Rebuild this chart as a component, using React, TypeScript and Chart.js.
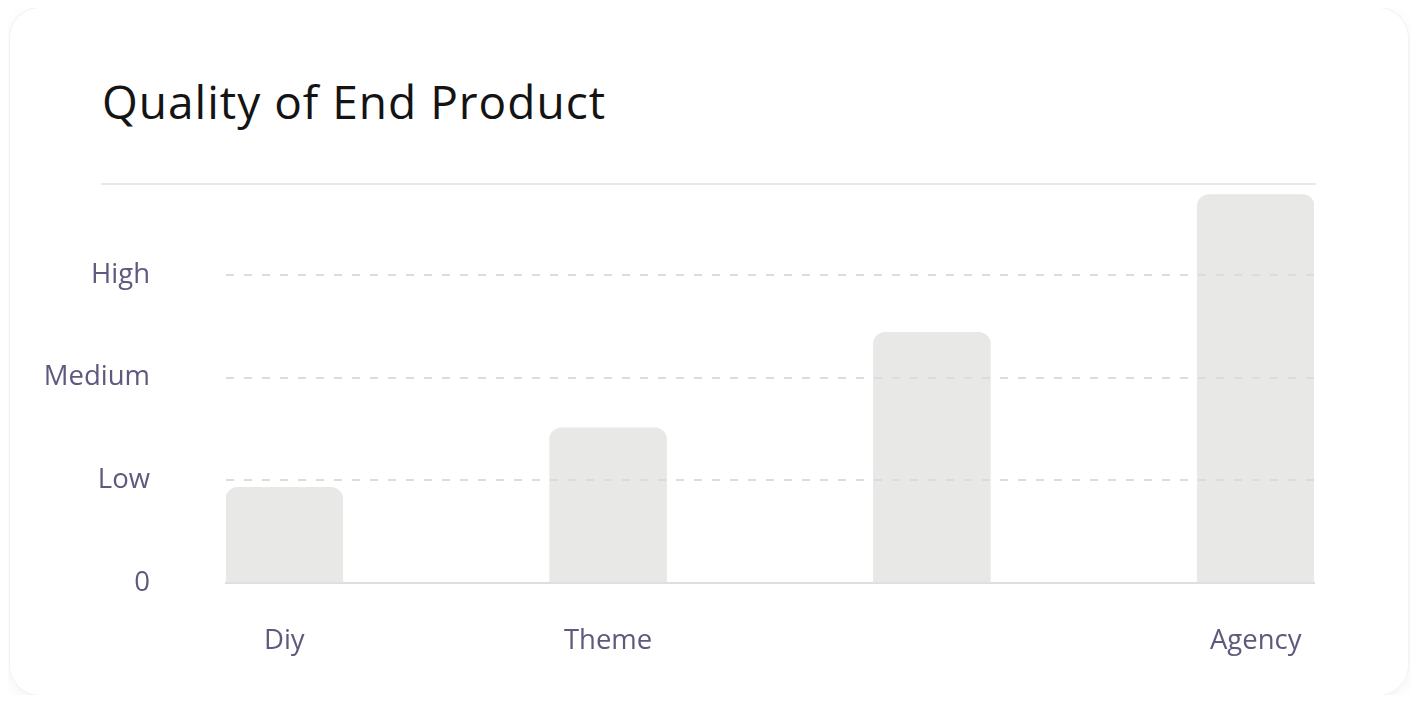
import React, { useEffect, useRef } from 'react';
import Chart from 'chart.js/auto';

// categories of the x axis (third one has no label in the picture)
const categories: string[] = ['Diy', 'Theme', '', 'Agency'];
// quality level of each category, 0 = none, 1 = Low, 2 = Medium, 3 = High
const qualityValues: number[] = [0.93, 1.51, 2.44, 3.78];
// labels of the y axis ticks
const levelLabels: string[] = ['0', 'Low', 'Medium', 'High'];

const labelColor = '#5d5a7e';
const barColor = '#e8e8e6';

const App: React.FC = () => {
  const chartRef = useRef<HTMLCanvasElement | null>(null);
  const chartInstanceRef = useRef<Chart | null>(null);

  useEffect(() => {
    if (!chartRef.current) return;
    const ctx = chartRef.current.getContext('2d');
    if (!ctx) return;

    if (chartInstanceRef.current) {
      chartInstanceRef.current.destroy();
    }

    chartInstanceRef.current = new Chart(ctx, {
      type: 'bar',
      data: {
        datasets: [
          {
            label: 'Quality',
            data: qualityValues.map((v, i) => ({ x: i, y: v })),
            backgroundColor: barColor,
            borderRadius: { topLeft: 12, topRight: 12, bottomLeft: 0, bottomRight: 0 },
            borderSkipped: 'bottom',
            barThickness: 117,
          },
        ],
      },
      options: {
        animation: false,
        responsive: true,
        maintainAspectRatio: false,
        layout: { padding: { left: 0, right: 94, top: 2, bottom: 0 } },
        plugins: {
          legend: { display: false },
          tooltip: { enabled: false },
        },
        scales: {
          x: {
            type: 'linear',
            offset: false,
            min: -0.18,
            max: 3.18,
            afterBuildTicks: (scale: any) => {
              scale.ticks = categories.map((_, i) => ({ value: i }));
            },
            afterFit: (scale: any) => {
              scale.height = 107;
              scale.paddingLeft = 0;
              scale.paddingRight = 0;
            },
            grid: { display: false, offset: false },
            border: { display: true, color: '#dedede', width: 2 },
            ticks: {
              padding: 34,
              maxRotation: 0,
              autoSkip: false,
              color: labelColor,
              font: { family: 'Open Sans', size: 27.5 },
              callback: (value: any) => categories[value] ?? '',
            },
          },
          y: {
            min: 0,
            max: 4,
            afterBuildTicks: (scale: any) => {
              scale.ticks = levelLabels.map((_, i) => ({ value: i }));
            },
            afterFit: (scale: any) => {
              // fixed axis width, and no extra top/bottom room from the tick padding
              scale.width = 216;
              scale.paddingTop = 0;
              scale.paddingBottom = 0;
            },
            grid: {
              z: 1,
              drawTicks: false,
              color: (c: any) => (c.tick && c.tick.value === 0 ? 'rgba(0,0,0,0)' : '#dcdcdc'),
              lineWidth: 2,
            },
            border: { display: false, dash: [8, 10] },
            ticks: {
              padding: 76,
              color: labelColor,
              font: { family: 'Open Sans', size: 27.5 },
              callback: (value: any) => levelLabels[value] ?? '',
            },
          },
        },
      },
    } as any);

    return () => {
      if (chartInstanceRef.current) {
        chartInstanceRef.current.destroy();
        chartInstanceRef.current = null;
      }
    };
  }, []);

  return (
    <div style={{ paddingLeft: 2 }}>
      <div
        style={{
          position: 'relative',
          width: 1398,
          height: 687,
          borderRadius: 30,
          background: '#ffffff',
          boxShadow: '0 0 0 1px #f2f2f2, 0 4px 16px rgba(0,0,0,0.05)',
        }}
      >
        <div
          style={{
            position: 'absolute',
            left: 92,
            top: 70,
            fontFamily: 'Open Sans',
            fontSize: 46,
            lineHeight: 1,
            color: '#141414',
            letterSpacing: 1,
            whiteSpace: 'nowrap',
          }}
        >
          Quality of End Product
        </div>
        <div
          style={{
            position: 'absolute',
            left: 91,
            top: 175,
            width: 1215,
            height: 2,
            background: '#e8e8e8',
          }}
        />
        <div style={{ position: 'absolute', left: 0, top: 162, width: 1398, height: 520 }}>
          <canvas ref={chartRef} />
        </div>
      </div>
    </div>
  );
};

export default App;
